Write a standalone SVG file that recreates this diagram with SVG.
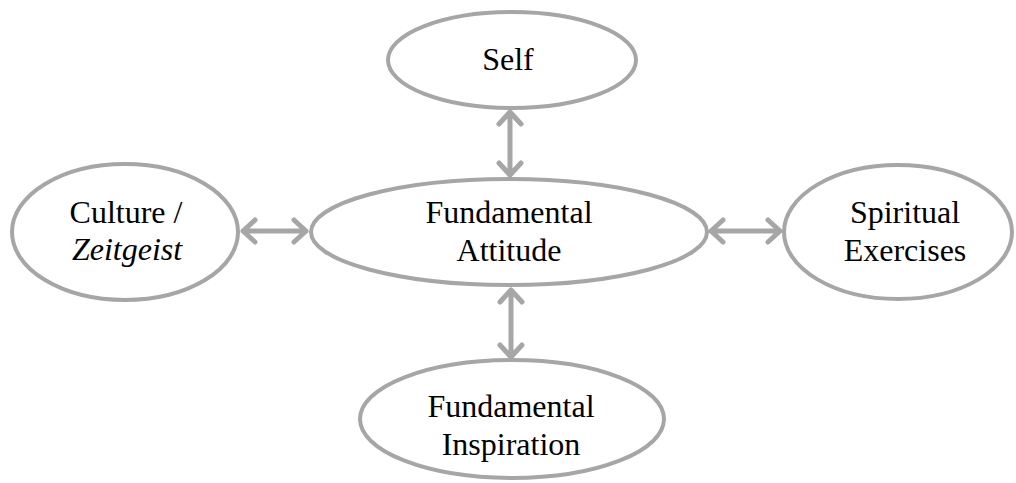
<svg xmlns="http://www.w3.org/2000/svg" width="1016" height="483" viewBox="0 0 1016 483">
<rect width="1016" height="483" fill="#fff"/>
<g id="connectors" fill="none" stroke="#a6a6a6" stroke-width="5" stroke-linecap="round" stroke-linejoin="round">
<path d="M510 112V175M499 124L510 112L521 124M499 163L510 175L521 163"/>
<path d="M511 290V357M500 302L511 290L522 302M500 345L511 357L522 345"/>
<path d="M243 231H306M255 220L243 231L255 242M294 220L306 231L294 242"/>
<path d="M711 231H780M723 220L711 231L723 242M768 220L780 231L768 242"/>
</g>
<g fill="#fff" stroke="#a6a6a6" stroke-width="4">
<ellipse id="self-shape" cx="512" cy="60" rx="124" ry="48"/>
<ellipse id="attitude-shape" cx="509" cy="232" rx="198" ry="53"/>
<ellipse id="culture-shape" cx="125" cy="232" rx="113" ry="68"/>
<ellipse id="spiritual-shape" cx="898" cy="232" rx="114" ry="67"/>
<ellipse id="inspiration-shape" cx="512" cy="419" rx="152" ry="59"/>
</g>
<g font-family="Liberation Serif" font-size="32" fill="#000" text-anchor="middle">
<g id="self"><text x="508" y="70">Self</text></g>
<g id="attitude"><text x="509" y="223">Fundamental</text><text x="509" y="261">Attitude</text></g>
<g id="culture"><text x="126" y="223">Culture /</text><text x="127" y="260" font-style="italic">Zeitgeist</text></g>
<g id="spiritual"><text x="905" y="223">Spiritual</text><text x="905" y="261">Exercises</text></g>
<g id="inspiration"><text x="511" y="417">Fundamental</text><text x="511" y="455">Inspiration</text></g>
</g>
</svg>
